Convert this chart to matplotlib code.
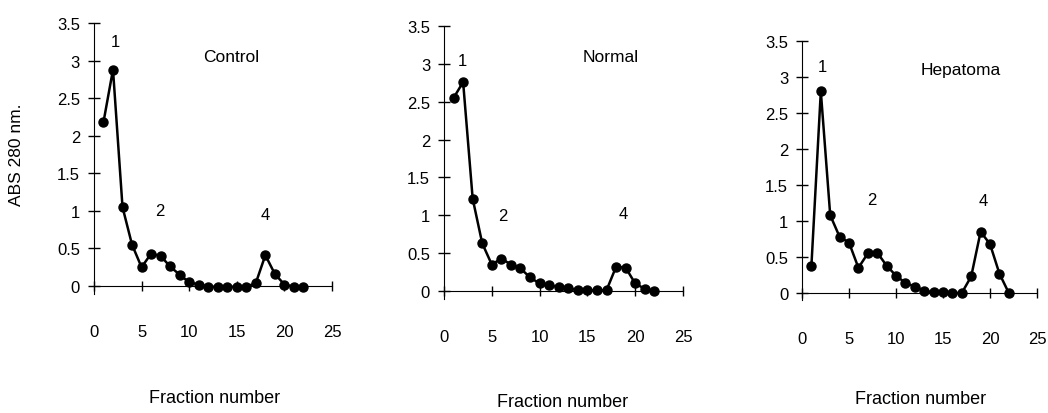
import matplotlib
matplotlib.use("Agg")
import matplotlib.pyplot as plt

plt.rcParams['font.family'] = ['Liberation Sans', 'DejaVu Sans']

# --- data ---
fractions = list(range(1, 23))
control = [2.18, 2.88, 1.05, 0.55, 0.25, 0.43, 0.40, 0.26, 0.15, 0.05, 0.02,
           -0.01, -0.01, -0.01, -0.01, -0.01, 0.04, 0.41, 0.16, 0.02, -0.01, -0.01]
normal = [2.55, 2.76, 1.22, 0.63, 0.35, 0.43, 0.35, 0.30, 0.18, 0.10, 0.08,
          0.05, 0.04, 0.01, 0.01, 0.01, 0.01, 0.32, 0.31, 0.10, 0.03, 0.0]
hepatoma = [0.38, 2.80, 1.08, 0.78, 0.70, 0.35, 0.55, 0.56, 0.38, 0.24, 0.14,
            0.09, 0.03, 0.01, 0.01, 0.0, 0.0, 0.23, 0.85, 0.68, 0.27, 0.0]

panels = [
    ("Control", control, [0.0851, 0.2795, 0.2317, 0.6626],
     (14.4, 3.06), [(2.2, 3.25), (6.9, 1.0), (18.0, 0.95)], (0.205, 0.038)),
    ("Normal", normal, [0.4191, 0.2671, 0.2326, 0.6676],
     (17.4, 3.1), [(1.9, 3.04), (6.2, 1.0), (18.7, 1.03)], (0.537, 0.027)),
    ("Hepatoma", hepatoma, [0.7608, 0.2638, 0.2287, 0.6348],
     (16.9, 3.1), [(2.2, 3.15), (7.4, 1.3), (19.3, 1.28)], (0.878, 0.034)),
]
peak_labels = ["1", "2", "4"]

fig = plt.figure(figsize=(10.48, 4.14), dpi=100)

for name, vals, rect, name_pos, peak_pos, xl_pos in panels:
    ax = fig.add_axes(rect)
    ax.plot(fractions, vals, color='black', lw=1.8, marker='o', ms=6.5)
    ax.set_xlim(-0.5, 25)
    ax.set_ylim(-0.15, 3.5)
    ax.spines['top'].set_visible(False)
    ax.spines['right'].set_visible(False)
    ax.spines['left'].set_position(('data', 0))
    ax.spines['bottom'].set_position(('data', 0))
    ax.spines['bottom'].set_bounds(0, 25)
    ax.spines['left'].set_bounds(-0.1, 3.5)
    ax.set_xticks([0, 5, 10, 15, 20, 25])
    ax.set_yticks([0, 0.5, 1, 1.5, 2, 2.5, 3, 3.5])
    ax.set_yticklabels(["0", "0.5", "1", "1.5", "2", "2.5", "3", "3.5"])
    ax.tick_params(axis='x', direction='inout', length=7, width=1, pad=24, labelsize=12)
    ax.tick_params(axis='y', direction='inout', length=8, width=1, pad=6, labelsize=12)
    ax.text(*name_pos, name, ha='center', va='center', fontsize=12.5)
    for lab, pos in zip(peak_labels, peak_pos):
        ax.text(*pos, lab, ha='center', va='center', fontsize=12)
    fig.text(*xl_pos, "Fraction number", ha='center', va='center', fontsize=13)

fig.text(0.016, 0.626, "ABS 280 nm.", rotation=90, ha='center', va='center', fontsize=12.5)

fig.savefig("out.png", dpi=100)
